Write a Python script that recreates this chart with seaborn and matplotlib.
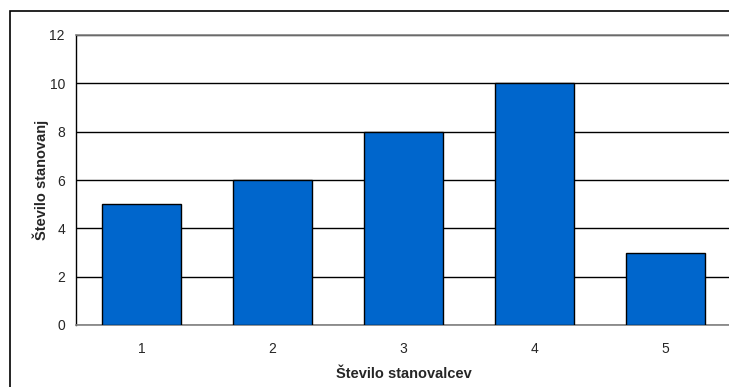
import matplotlib
matplotlib.use("Agg")
import matplotlib.pyplot as plt
import seaborn as sns
import pandas as pd
from matplotlib.patches import Rectangle

categories = ["1", "2", "3", "4", "5"]
values = [5, 6, 8, 10, 3]
yticks = [0, 2, 4, 6, 8, 10, 12]

sns.set_style("white")
plt.rcParams['font.family'] = ['Liberation Sans', 'DejaVu Sans']

df = pd.DataFrame({"cat": categories, "val": values})

fig = plt.figure(figsize=(7.29, 3.87), dpi=100)
ax = fig.add_axes([76/729, (387-325)/387, 655/729, 290/387])

sns.barplot(data=df, x="cat", y="val", color="#0066CC", saturation=1,
            width=0.6, edgecolor="black", linewidth=1.0, ax=ax, zorder=3)

ax.set_ylim(0, 12)
ax.set_xlim(-0.5, len(categories) - 0.5)
ax.set_yticks(yticks)
ax.set_yticklabels([str(t) for t in yticks], fontsize=10)
ax.yaxis.grid(True, color="black", linewidth=1.0, zorder=0)
ax.set_axisbelow(True)

# category boundaries as major ticks, labels at centers via minor ticks
ax.set_xticks([i - 0.5 for i in range(len(categories) + 1)])
ax.set_xticklabels([""] * (len(categories) + 1))
ax.set_xticks(range(len(categories)), minor=True)
ax.set_xticklabels(categories, minor=True, fontsize=10)
ax.tick_params(axis="x", which="minor", length=0, pad=12)
ax.tick_params(axis="x", which="major", length=5, width=1, color="#808080", direction="out")
ax.tick_params(axis="y", length=5, width=1, color="black", direction="out", pad=3)

ax.spines["right"].set_visible(False)
ax.spines["top"].set_color("#808080")
ax.spines["top"].set_linewidth(1.2)
ax.spines["bottom"].set_color("#808080")
ax.spines["bottom"].set_linewidth(1.2)
ax.spines["left"].set_color("black")
ax.spines["left"].set_linewidth(1.0)

ax.set_xlabel("Število stanovalcev", fontsize=10.5, fontweight="bold", labelpad=8)
ax.set_ylabel("Število stanovanj", fontsize=10.5, fontweight="bold", labelpad=0)

# outer chart border
fig.patches.append(Rectangle((10/729, -0.1), 1.0, 1 - 11/387 + 0.1,
                             transform=fig.transFigure, fill=False,
                             edgecolor="black", linewidth=1.2, clip_on=False))

fig.savefig("out.png", dpi=100)
